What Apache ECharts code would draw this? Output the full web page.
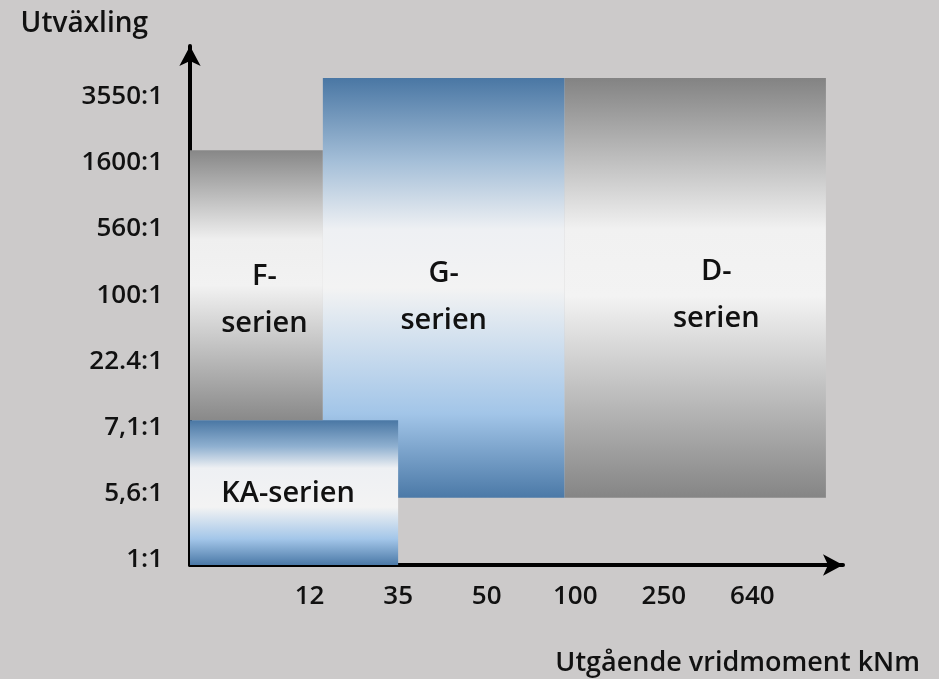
<!DOCTYPE html>
<html>
<head>
<meta charset="utf-8">
<script src="https://cdn.jsdelivr.net/npm/echarts@6/dist/echarts.min.js"></script>
<style>
html,body{margin:0;padding:0;background:#cccaca;}
#chart{width:939px;height:679px;}
</style>
</head>
<body>
<div id="chart"></div>
<script>
// ---- data ----
// tick labels; the chart is schematic, each label sits at one tick step
const yLabels = ['1:1', '5,6:1', '7,1:1', '22.4:1', '100:1', '560:1', '1600:1', '3550:1'];
const yLabelSteps = [0, 1, 2, 3, 4, 5, 6, 7];
const xLabels = ['12', '35', '50', '100', '250', '640'];
const xLabelSteps = [1, 2, 3, 4, 5, 6];

// series ranges, expressed in tick steps
const boxNames = ['F-serien', 'G-serien', 'D-serien', 'KA-serien'];
const boxText = ['F-\nserien', 'G-\nserien', 'D-\nserien', 'KA-serien'];
const boxXFrom = [-0.35, 1.15, 3.88, -0.35];
const boxXTo = [1.15, 3.88, 6.83, 2.0];
const boxYFrom = [2.11, 0.94, 0.94, -0.075];
const boxYTo = [6.19, 7.28, 7.28, 2.11];

// ---- styling ----
const G = echarts.graphic;
const grayStops = [
  {offset: 0, color: '#838383'}, {offset: 0.36, color: '#f1f1f1'},
  {offset: 0.52, color: '#f3f3f3'}, {offset: 1, color: '#858585'}];
const grayStopsF = [
  {offset: 0, color: '#878787'}, {offset: 0.33, color: '#efefef'},
  {offset: 0.5, color: '#f2f2f2'}, {offset: 1, color: '#898989'}];
const blueStopsG = [
  {offset: 0, color: '#4a77a4'}, {offset: 0.2, color: '#a5bfd8'},
  {offset: 0.36, color: '#eef0f3'}, {offset: 0.5, color: '#f3f3f3'},
  {offset: 0.8, color: '#a2c5e8'}, {offset: 1, color: '#4b79a7'}];
const blueStopsKA = [
  {offset: 0, color: '#4a77a4'}, {offset: 0.18, color: '#8fb0d0'},
  {offset: 0.33, color: '#eef0f3'}, {offset: 0.6, color: '#f3f3f3'},
  {offset: 0.82, color: '#a3c6e9'}, {offset: 1, color: '#4b79a7'}];
const boxStyle = {
  'F-serien': {stops: grayStopsF, offset: [8, 15]},
  'G-serien': {stops: blueStopsG, offset: [0, 9]},
  'D-serien': {stops: grayStops, offset: [21, 7]},
  'KA-serien': {stops: blueStopsKA, offset: [-6, 1]}
};

const font = '"Open Sans", "DejaVu Sans", sans-serif';
const chart = echarts.init(document.getElementById('chart'), null, {renderer: 'canvas'});

const data = boxNames.map((n, i) => [boxXFrom[i], boxXTo[i], boxYFrom[i], boxYTo[i], i]);

function renderItem(params, api) {
  const i = api.value(4);
  const p0 = api.coord([api.value(0), api.value(3)]);
  const p1 = api.coord([api.value(1), api.value(2)]);
  const st = boxStyle[boxNames[i]];
  return {
    type: 'rect',
    shape: {x: p0[0], y: p0[1], width: p1[0] - p0[0], height: p1[1] - p0[1]},
    style: {fill: new G.LinearGradient(0, 0, 0, 1, st.stops)},
    textContent: {
      style: {
        text: boxText[i], fill: '#111', font: '600 29px ' + font,
        lineHeight: 47, align: 'center', verticalAlign: 'middle'
      }
    },
    textConfig: {position: 'inside', offset: st.offset}
  };
}

const labelStyle = {color: '#111', fontSize: 26, fontWeight: 600, fontFamily: font};

chart.setOption({
  backgroundColor: '#cccaca',
  animation: false,
  grid: {left: 190, right: 96, top: 46, bottom: 114, containLabel: false},
  xAxis: {
    type: 'value', min: -0.35, max: 7.023,
    name: 'Utgående vridmoment kNm', nameLocation: 'end', nameGap: 77,
    nameTextStyle: {color: '#111', fontSize: 27, fontWeight: 600, fontFamily: font,
      align: 'right', verticalAlign: 'top', padding: [85, 0, 0, 0]},
    axisLine: {onZero: false, lineStyle: {color: '#000', width: 4},
      symbol: ['none', 'arrow'], symbolSize: [16, 20]},
    axisTick: {show: false},
    splitLine: {show: false},
    axisLabel: Object.assign({}, labelStyle, {
      margin: 19, customValues: xLabelSteps,
      formatter: v => xLabels[xLabelSteps.indexOf(Math.round(v))] || ''
    })
  },
  yAxis: {
    type: 'value', min: -0.075, max: 7.765,
    name: 'Utväxling', nameLocation: 'end', nameGap: 8,
    nameTextStyle: {color: '#111', fontSize: 28, fontWeight: 600, fontFamily: font,
      align: 'right', verticalAlign: 'bottom', padding: [0, 42, 0, 0]},
    axisLine: {onZero: false, lineStyle: {color: '#000', width: 4},
      symbol: ['none', 'arrow'], symbolSize: [16, 20]},
    axisTick: {show: false},
    splitLine: {show: false},
    axisLabel: Object.assign({}, labelStyle, {
      margin: 27, customValues: yLabelSteps,
      formatter: v => yLabels[yLabelSteps.indexOf(Math.round(v))] || ''
    })
  },
  series: [{
    type: 'custom',
    renderItem: renderItem,
    clip: false,
    encode: {x: [0, 1], y: [2, 3]},
    data: data,
    z: 1
  }]
});
</script>
</body>
</html>
